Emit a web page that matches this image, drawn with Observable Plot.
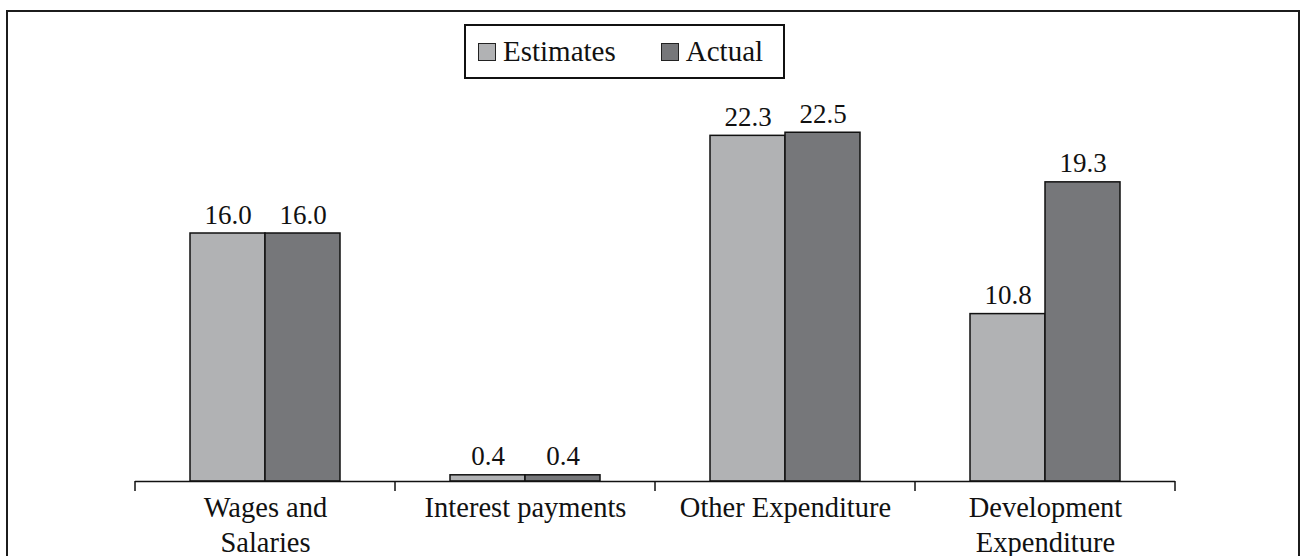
<!DOCTYPE html>
<html>
<head>
<meta charset="utf-8">
<script src="https://cdn.jsdelivr.net/npm/d3@7"></script>
<script src="https://cdn.jsdelivr.net/npm/@observablehq/plot@0.6"></script>
<style>
  html, body { margin: 0; padding: 0; background: #fff; overflow: hidden; }
  #page { position: relative; width: 1307px; height: 556px; overflow: hidden; font-family: "Liberation Serif", "Times New Roman", serif; }
  #border { position: absolute; left: 6px; top: 10px; width: 1294px; height: 600px; border: 2px solid #1c1c1c; box-sizing: border-box; }
  #chart { position: absolute; left: 0; top: 0; }
  #legend { position: absolute; left: 464px; top: 24px; width: 321px; height: 55px; border: 2px solid #111; box-sizing: border-box; background: #fff; display: flex; align-items: center; font-size: 29px; color: #111; }
  .item { display: flex; align-items: center; }
  .sw { width: 18px; height: 18px; border: 1px solid #222; box-sizing: border-box; margin-right: 7px; }
</style>
</head>
<body>
<div id="page">
  <div id="border"></div>
  <div id="chart"></div>
  <div id="legend"></div>
</div>
<script>
// Expenditure categories and the two series compared in each
const categories = ["Wages and Salaries", "Interest payments", "Other Expenditure", "Development Expenditure"];
const categoryLabels = ["Wages and\nSalaries", "Interest payments", "Other Expenditure", "Development\nExpenditure"];
const series = ["Estimates", "Actual"];
const estimates = [16.0, 0.4, 22.3, 10.8];
const actual = [16.0, 0.4, 22.5, 19.3];
const seriesColors = ["#b1b2b4", "#76777a"];

const data = categories.flatMap((c, i) => [
  {category: c, series: "Estimates", value: estimates[i]},
  {category: c, series: "Actual", value: actual[i]}
]);
const labelData = categories.map((c, i) => ({category: c, label: categoryLabels[i]}));

const plot = Plot.plot({
  width: 1307,
  height: 556,
  marginLeft: 135,
  marginRight: 132,
  marginTop: 16,
  marginBottom: 75,
  style: {fontFamily: "'Liberation Serif', 'Times New Roman', serif", fontSize: "27px", background: "transparent", color: "#111"},
  fx: {domain: categories, padding: 0, axis: null},
  x: {domain: series, paddingInner: 0, paddingOuter: 0.733, axis: null},
  y: {domain: [0, 30], axis: null},
  color: {domain: series, range: seriesColors},
  marks: [
    Plot.barY(data, {fx: "category", x: "series", y: "value", fill: "series", stroke: "#111", strokeWidth: 1.5}),
    Plot.ruleY([0], {stroke: "#111", strokeWidth: 1.5}),
    Plot.text(data, {fx: "category", x: "series", y: "value", text: d => d.value.toFixed(1), lineAnchor: "bottom", dy: -10, fontSize: 27, fill: "#111"}),
    Plot.text(labelData, {fx: "category", text: "label", frameAnchor: "bottom", lineAnchor: "top", dy: 10, lineHeight: 1.24, fontSize: 28.5, fill: "#111"})
  ]
});
document.getElementById("chart").appendChild(plot);

// Category boundary ticks below the baseline, positioned from the fx scale
const fx = plot.scale("fx");
const y = plot.scale("y");
const y0 = y.apply(0);
const bounds = categories.map(c => fx.apply(c)).concat([fx.apply(categories[categories.length - 1]) + fx.bandwidth]);
d3.select(plot).append("g")
  .attr("stroke", "#111")
  .attr("stroke-width", 1.5)
  .selectAll("line")
  .data(bounds)
  .join("line")
  .attr("x1", d => d).attr("x2", d => d)
  .attr("y1", y0).attr("y2", y0 + 10);

// Legend
const legend = d3.select("#legend");
series.forEach((s, i) => {
  const item = legend.append("div").attr("class", "item")
    .style("margin-left", i === 0 ? "12px" : "45px");
  item.append("div").attr("class", "sw").style("background", seriesColors[i]);
  item.append("span").text(s);
});
</script>
</body>
</html>
